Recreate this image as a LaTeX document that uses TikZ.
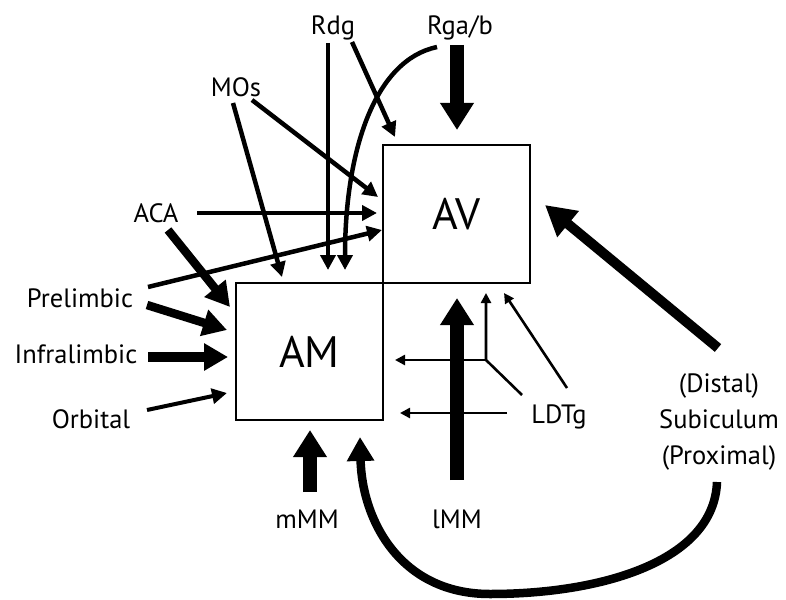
\documentclass[tikz,border=0pt]{standalone}
\usepackage{fontspec}
\setmainfont{PT Sans}
\usetikzlibrary{arrows.meta}
\begin{document}
\begin{tikzpicture}[x=1pt,y=-1pt,
 lbl/.style={font=\fontsize{26.5}{30}\selectfont, inner sep=0pt, anchor=base},
 box/.style={draw, line width=1.3pt, minimum width=147pt, minimum height=138pt, inner sep=0pt, font=\fontsize{44}{50}\selectfont},
 thinar/.style={line width=2.6pt, -{Triangle[length=10pt,width=10pt]}},
 thinln/.style={line width=2.6pt, line join=miter},
 medar/.style={line width=4.5pt, -{Triangle[length=15pt,width=15pt]}},
 heavyar/.style={line width=8.5pt, -{Triangle[length=24pt,width=26pt]}},
 xheavyar/.style={line width=13.5pt, -{Triangle[length=27pt,width=32pt]}}]
\useasboundingbox (0,0) rectangle (786,599);
% boxes
\node[box] (AV) at (456.5,214) {AV};
\node[box, minimum height=137pt] (AM) at (309.5,351.5) {AM};
% labels
\node[lbl] (Rdg) at (333,35) {Rdg};
\node[lbl] (Rga) at (460,35) {Rga/b};
\node[lbl] (MOs) at (236,97) {MOs};
\node[lbl] (ACA) at (156,222) {ACA};
\node[lbl] (Pre) at (80,307) {Prelimbic};
\node[lbl] (Inf) at (76,363) {Infralimbic};
\node[lbl] (Orb) at (91,428) {Orbital};
\node[lbl] (mMM) at (307,528) {mMM};
\node[lbl] (lMM) at (457,528) {lMM};
\node[lbl] (LDTg) at (559,423) {LDTg};
\node[font=\fontsize{26.5}{36}\selectfont, inner sep=0pt, align=center] (Sub) at (719,422) {(Distal)\\Subiculum\\(Proximal)};
% coordinates
\coordinate (rdgA) at (328,43);   \coordinate (rdgAe) at (328,270);
\coordinate (rdgB) at (352,42);   \coordinate (rdgBe) at (395,137);
\coordinate (rgaA) at (437,47);   \coordinate (rgaAe) at (345,270);
\coordinate (rgaB) at (457,45);   \coordinate (rgaBe) at (457,130);
\coordinate (mosA) at (233,103);  \coordinate (mosAe) at (282,277);
\coordinate (mosB) at (252,100);  \coordinate (mosBe) at (378,197);
\coordinate (acaA) at (197,213);  \coordinate (acaAe) at (377,213);
\coordinate (preA) at (148,287);  \coordinate (preAe) at (382,230);
\coordinate (acaB) at (168,230);  \coordinate (acaBe) at (230,307);
\coordinate (preB) at (147,305);  \coordinate (preBe) at (227,330);
\coordinate (infA) at (148,357);  \coordinate (infAe) at (228,357);
\coordinate (orbA) at (147,410);  \coordinate (orbAe) at (227,393);
\coordinate (mmmA) at (310,492);  \coordinate (mmmAe) at (310,430);
\coordinate (lmmA) at (457,480);  \coordinate (lmmAe) at (457,298);
\coordinate (subA) at (718,348);  \coordinate (subAe) at (545,205);
\coordinate (subB) at (717,482);  \coordinate (subBe) at (360,437);
\coordinate (ldA) at (522,395);   \coordinate (ldJ) at (486,360);
\coordinate (ldJu) at (486,293);  \coordinate (ldJl) at (395,360);
\coordinate (ldB) at (567,388);   \coordinate (ldBe) at (504,293);
\coordinate (ldC) at (507,413);   \coordinate (ldCe) at (400,413);
% arrows
\draw[medar] (rdgA) -- (rdgAe);
\draw[medar] (rdgB) -- (rdgBe);
\draw[medar] (rgaA) .. controls (375,60) and (345,150) .. (rgaAe);
\draw[xheavyar] (rgaB) -- (rgaBe);
\draw[medar] (mosA) -- (mosAe);
\draw[medar] (mosB) -- (mosBe);
\draw[medar] (acaA) -- (acaAe);
\draw[medar] (preA) -- (preAe);
\draw[heavyar] (acaB) -- (acaBe);
\draw[heavyar] (preB) -- (preBe);
\draw[heavyar, line width=10pt] (infA) -- (infAe);
\draw[medar, line width=4pt] (orbA) -- (orbAe);
\draw[thinar] (ldA) -- (ldJ) -- (ldJu);
\draw[thinar] (ldJ) -- (ldJl);
\draw[thinar] (ldB) -- (ldBe);
\draw[thinar] (ldC) -- (ldCe);
\draw[xheavyar] (mmmA) -- (mmmAe);
\draw[xheavyar] (lmmA) -- (lmmAe);
\draw[heavyar, line width=10pt, -{Triangle[length=30pt,width=32pt]}] (subA) -- (subAe);
\draw[heavyar] (subB) .. controls (714,562) and (600,594) .. (490,594) .. controls (400,594) and (362,520) .. (subBe);
\end{tikzpicture}
\end{document}
